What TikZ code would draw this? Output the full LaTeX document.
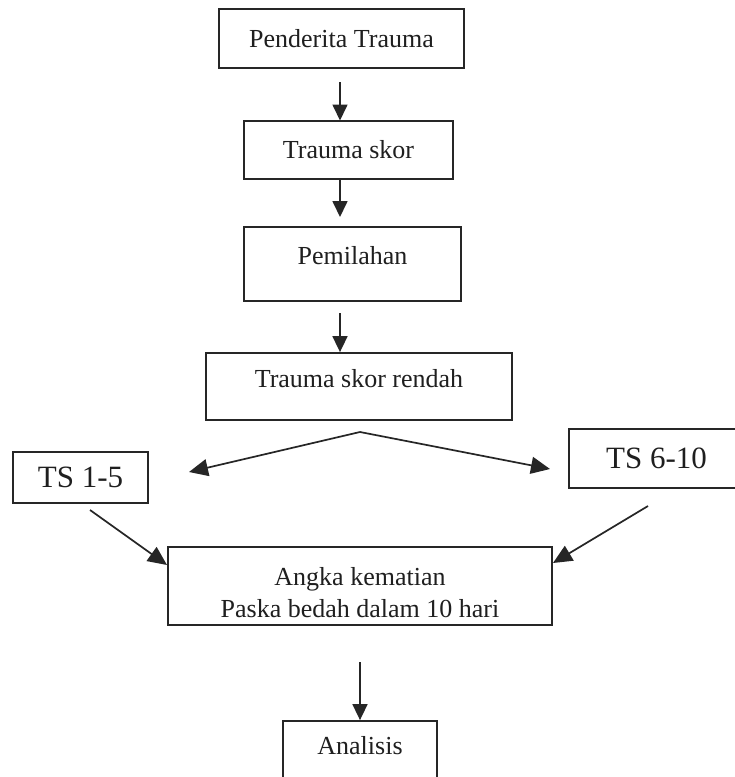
\documentclass[tikz,border=0pt]{standalone}
\usepackage{fontspec}
\setmainfont{Liberation Serif}
\usetikzlibrary{arrows.meta}
\newcommand{\dn}[1]{\rule[-#1pt]{0pt}{0pt}}
\begin{document}
\begin{tikzpicture}[x=1pt,y=-1pt,
  flowbox/.style={draw=black!85, line width=1.8pt, rectangle, inner sep=0pt,
    font=\fontsize{26}{32}\selectfont, text=black!88, align=center},
  tsbox/.style={flowbox, font=\fontsize{31}{36}\selectfont},
  flowarrow/.style={draw=black!85, line width=1.7pt, -{Triangle[length=16pt,width=15pt]}},
  bigarrow/.style={flowarrow, -{Triangle[length=19pt,width=17pt]}}]
\clip (0,0) rectangle (735,777);
\fill[white] (0,0) rectangle (735,777);
\node[flowbox, minimum width=245, minimum height=59] (pt) at (341.5,38.5) {Penderita Trauma};
\node[flowbox, minimum width=209, minimum height=58] (ts) at (348.5,150) {Trauma skor};
\node[flowbox, minimum width=217, minimum height=74] (pm) at (352.5,264) {Pemilahan\dn{17}};
\node[flowbox, minimum width=306, minimum height=67] (tsr) at (359,386.5) {Trauma skor rendah\dn{16}};
\node[tsbox, minimum width=135, minimum height=51] (ta) at (80.5,477.5) {TS 1-5};
\node[tsbox, minimum width=175, minimum height=59] (tb) at (656.5,458.5) {TS 6-10};
\node[flowbox, minimum width=384, minimum height=78] (ak) at (360,586) {\rule{0pt}{31pt}Angka kematian\\Paska bedah dalam 10 hari};
\node[flowbox, minimum width=154, minimum height=64] (an) at (360,753) {Analisis\dn{16}};
% free ends of connectors
\coordinate (s1) at (340,82);
\coordinate (e1) at (340,120.5);
\coordinate (s2) at (340,179);
\coordinate (e2) at (340,217);
\coordinate (s3) at (340,313);
\coordinate (e3) at (340,352.5);
\coordinate (apex) at (360,432);
\coordinate (el) at (189,472);
\coordinate (er) at (550,469);
\coordinate (sa) at (90,510);
\coordinate (ea) at (167,565);
\coordinate (sb) at (648,506);
\coordinate (eb) at (553,563);
\coordinate (s4) at (360,662);
\draw[flowarrow] (s1) -- (e1);
\draw[flowarrow] (ts.south -| s2) -- (e2);
\draw[flowarrow] (s3) -- (tsr.north -| e3);
\draw[bigarrow] (apex) -- (el);
\draw[bigarrow] (apex) -- (er);
\draw[bigarrow] (sa) -- (ea);
\draw[bigarrow] (sb) -- (eb);
\draw[flowarrow] (s4) -- (an.north);
\end{tikzpicture}
\end{document}
